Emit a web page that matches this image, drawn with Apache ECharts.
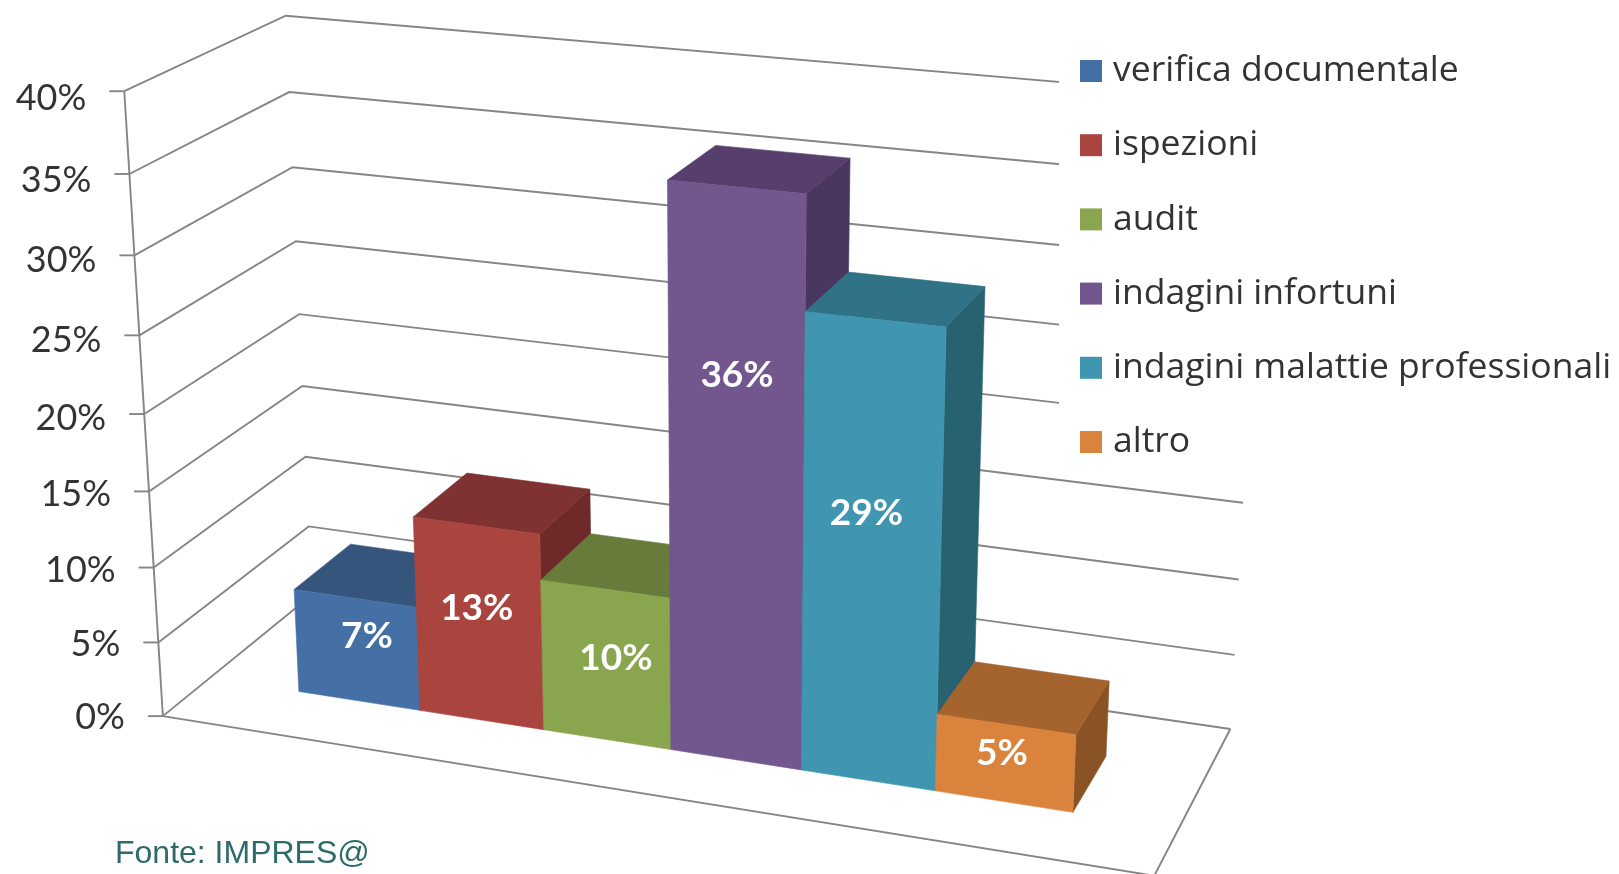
<!DOCTYPE html>
<html>
<head>
<meta charset="utf-8">
<style>html,body{margin:0;padding:0;background:#fff}#c{width:1619px;height:874px}</style>
<script src="https://cdn.jsdelivr.net/npm/echarts@6/dist/echarts.min.js"></script>
</head>
<body>
<div id="c"></div>
<script>
// ---- data ----
const seriesNames = ['verifica documentale','ispezioni','audit','indagini infortuni','indagini malattie professionali','altro'];
const seriesValues = [7,13,10,36,29,5];
const tickValues = [0,5,10,15,20,25,30,35,40];
const tickLabels = ['0%','5%','10%','15%','20%','25%','30%','35%','40%'];
const sourceNote = 'Fonte: IMPRES@';

// ---- style ----
const frontColors = ['#4470a6','#a9443f','#89a54e','#71578e','#4096b0','#da833c'];
const topColors   = ['#35557d','#7f3231','#677c3a','#563f6c','#307286','#a5632d'];
const sideColors  = ['#2c4668','#6d2a28','#566832','#4a3760','#286170','#8a5326'];
const labelNudge  = [[10,-14],[-2,-16],[10,-7],[1,-107],[-5,-42],[-3,-10]];
const LINE = '#858585';
const FONT = 'Lato, "Open Sans", sans-serif';
const U0 = 0.1, U1 = 0.9, W0 = 0.3, W1 = 0.69;

// ---- camera: a projective map fitted to the reference's box corners (u across, v up, w into the page) ----
const camera = [
 [0,0,0,162.5,716],[0,.25,0,154,567],[0,.5,0,144,415],[0,.75,0,133.6,256],[0,1,0,125.7,90],
 [0,.25,1,304.8,456.7],[0,.5,1,298.2,314],[0,.75,1,292.7,167.7],[0,1,1,285.8,15.7],[0,0,1,313,595],
 [1,0,1,1230,728],[1,.125,1,1235,655],[1,.25,1,1239,580],[1,.375,1,1243,503],[1,1,1,1265,99.5],
 [1,0,0,1154,876]
];
function solveCamera(pts){
  const n = 11, A = Array.from({length:n},()=>new Array(n+1).fill(0));
  const add = (r,b)=>{ for(let i=0;i<n;i++){ for(let j=0;j<n;j++) A[i][j]+=r[i]*r[j]; A[i][n]+=r[i]*b; } };
  pts.forEach(([u,v,w,x,y])=>{
    add([u,v,w,1,0,0,0,0,-x*u,-x*v,-x*w],x);
    add([0,0,0,0,u,v,w,1,-y*u,-y*v,-y*w],y);
  });
  for(let c=0;c<n;c++){
    let p=c; for(let r=c+1;r<n;r++) if(Math.abs(A[r][c])>Math.abs(A[p][c])) p=r;
    [A[c],A[p]]=[A[p],A[c]];
    for(let r=0;r<n;r++){ if(r===c) continue; const f=A[r][c]/A[c][c]; for(let k=c;k<=n;k++) A[r][k]-=f*A[c][k]; }
  }
  return A.map((row,i)=>row[n]/row[i]);
}
const P = solveCamera(camera);
function project(u,v,w){
  const d = P[8]*u+P[9]*v+P[10]*w+1;
  return [(P[0]*u+P[1]*v+P[2]*w+P[3])/d,(P[4]*u+P[5]*v+P[6]*w+P[7])/d];
}
const toU = (px,r)=>U0+(U1-U0)*(px-r.x)/r.width;
const toV = (py,r)=>(r.y+r.height-py)/r.height;

function renderWall(params,api){
  const r = params.coordSys, v = toV(api.coord([0,api.value(1)])[1],r);
  const a = project(0,v,0), b = project(0,v,1), c = project(1,v,1);
  const kids = [
    {type:'polyline',shape:{points:[a,b,c]},style:{stroke:LINE,lineWidth:1.9,fill:null}},
    {type:'polyline',shape:{points:[[a[0]-15,a[1]],a]},style:{stroke:LINE,lineWidth:1.9,fill:null}},
    {type:'text',style:{text:tickLabels[params.dataIndex],x:a[0]-38,y:a[1]+1+6*v,align:'right',verticalAlign:'middle',
      font:'36px '+FONT,fill:'#333333'}}
  ];
  if(params.dataIndex===0){
    kids.push({type:'polyline',shape:{points:[project(0,0,0),project(0,1,0)]},style:{stroke:LINE,lineWidth:1.9,fill:null}});
    kids.push({type:'polyline',shape:{points:[a,project(1,0,0),c]},style:{stroke:LINE,lineWidth:1.9,fill:null}});
  }
  return {type:'group',children:kids};
}
function renderBar(params,api){
  const r = params.coordSys, i = api.value(0), val = api.value(1);
  const band = api.size([1,0])[0], top = api.coord([i,val]), base = api.coord([i,0]);
  const ua = toU(top[0]-band/2,r), ub = toU(top[0]+band/2,r), vt = toV(top[1],r), vb = toV(base[1],r);
  const face = (pts,c)=>({type:'polygon',shape:{points:pts},style:{fill:c,stroke:c,lineWidth:.6}});
  const c = project((ua+ub)/2,(vt+vb)/2,W0), n = labelNudge[i];
  return {type:'group',children:[
    face([project(ub,vb,W0),project(ub,vb,W1),project(ub,vt,W1),project(ub,vt,W0)],sideColors[i]),
    face([project(ua,vt,W0),project(ub,vt,W0),project(ub,vt,W1),project(ua,vt,W1)],topColors[i]),
    face([project(ua,vb,W0),project(ub,vb,W0),project(ub,vt,W0),project(ua,vt,W0)],frontColors[i]),
    {type:'text',style:{text:val+'%',x:c[0]+n[0],y:c[1]+n[1],align:'center',verticalAlign:'middle',
      font:'bold 37px '+FONT,fill:'#fff'}}
  ]};
}

const series = [{type:'custom',name:'assi',silent:true,animation:false,clip:false,z:1,
  data:tickValues.map(v=>[0,v]),encode:{x:0,y:1},renderItem:renderWall}];
seriesNames.forEach((name,i)=>series.push({type:'custom',name,silent:true,animation:false,clip:false,z:2,
  data:[[i,seriesValues[i]]],encode:{x:0,y:1},itemStyle:{color:frontColors[i]},renderItem:renderBar}));

const chart = echarts.init(document.getElementById('c'),null,{renderer:'canvas'});
chart.setOption({
  animation:false,
  backgroundColor:'#fff',
  title:{text:sourceNote,left:115,top:838,padding:0,textStyle:{fontFamily:'"Liberation Sans"',fontSize:32,fontWeight:'normal',color:'#2f6a6a'}},
  grid:{left:100,top:100,width:600,height:400},
  xAxis:{type:'category',data:seriesNames,show:false},
  yAxis:{type:'value',min:0,max:40,interval:5,show:false},
  legend:{data:seriesNames,orient:'vertical',left:1059,top:47,padding:[4,0,5,21],backgroundColor:'#fff',
    itemWidth:22,itemHeight:22,itemGap:34.2,icon:'rect',selectedMode:false,
    textStyle:{fontFamily:'"Open Sans"',fontSize:35.5,color:'#333333',lineHeight:40,padding:[0,0,0,6]}},
  tooltip:{show:false},
  series
});
</script>
</body>
</html>
